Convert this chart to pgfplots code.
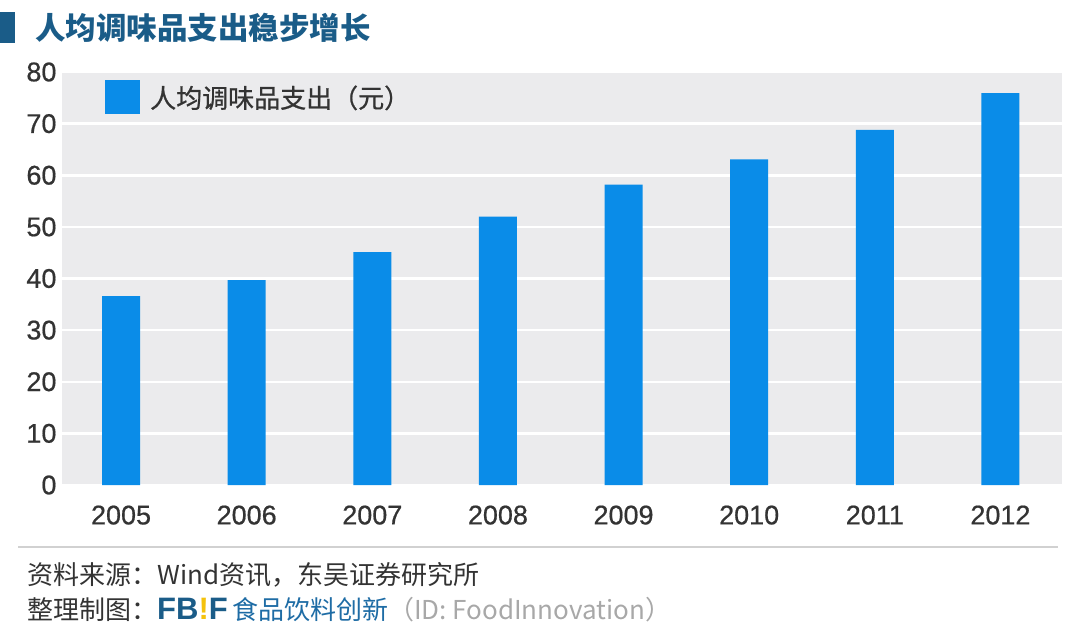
\documentclass[border=0pt]{standalone}
\usepackage{fontspec}
\usepackage{pgfplots}
\pgfplotsset{compat=1.18}
\setmainfont{Noto Sans CJK SC}
\newfontfamily\numfont{Liberation Sans}
\newfontfamily\numfontmed{Liberation Sans}[FakeBold=0.6]
\newfontfamily\cjkmed{Noto Sans CJK SC}[FakeBold=0.8]

\definecolor{barblue}{HTML}{0A8CE8}
\definecolor{bggray}{HTML}{EBEBED}
\definecolor{titleblue}{HTML}{1A5C88}
\definecolor{textgray}{HTML}{333333}
\definecolor{linkblue}{HTML}{1E6CA5}
\definecolor{idgray}{HTML}{A8A8A8}
\definecolor{fbyellow}{HTML}{F4C20D}

\begin{document}
\begin{tikzpicture}
\path[use as bounding box] (0,0) rectangle (1080pt,641pt);

% title
\fill[titleblue] (0pt,598pt) rectangle (15pt,629pt);
\node[anchor=west, inner sep=0pt, text=titleblue, font=\bfseries\fontsize{30.5pt}{33pt}\selectfont] at (35pt,613pt) {人均调味品支出稳步增长};

\begin{axis}[
    at={(62pt,156pt)}, anchor=south west,
    scale only axis, width=1000pt, height=413pt,
    xmin=-0.47, xmax=7.49, ymin=0, ymax=80,
    ybar, bar width=38pt,
    xtick={0,...,7},
    xticklabels={2005,2006,2007,2008,2009,2010,2011,2012},
    ytick={0,10,...,80},
    axis line style={draw=none},
    major tick length=0pt,
    axis background/.style={fill=bggray},
    ymajorgrids, grid style={white, line width=2.5pt},
    /pgf/number format/assume math mode=true,
    ticklabel style={font=\numfontmed\fontsize{27pt}{29pt}\selectfont, text=textgray},
    xticklabel style={yshift=-17pt},
    yticklabel style={xshift=-2pt},
    legend style={draw=none, fill=none, at={(0.04,0.985)}, anchor=north west,
        font=\cjkmed\fontsize{26pt}{28pt}\selectfont, text=textgray,
        /tikz/every even column/.append style={column sep=4pt}},
    legend image code/.code={\fill[barblue] (0pt,-17pt) rectangle (35pt,17pt);\path (43pt,0pt);},
]
\addplot[fill=barblue, draw=none] coordinates {
    (0,36.6) (1,39.7) (2,45.1) (3,52.0) (4,58.2) (5,63.1) (6,68.8) (7,75.9)
};
\addlegendentry{人均调味品支出（元）}
\end{axis}

% footer
\draw[line width=2.5pt, color=black!18] (18pt,94pt) -- (1058pt,94pt);
\node[anchor=west, inner sep=0pt, text=textgray, font=\fontsize{26pt}{28pt}\selectfont] at (27pt,66pt) {资料来源：Wind资讯，东吴证券研究所};
\node[anchor=west, inner sep=0pt, font=\fontsize{26pt}{28pt}\selectfont] at (27pt,31pt)
    {\textcolor{textgray}{整理制图：}{\numfont\bfseries\fontsize{31pt}{32pt}\selectfont\textcolor{titleblue}{FB}\textcolor{fbyellow}{!}\textcolor{titleblue}{F}}\,\textcolor{linkblue}{食品饮料创新}\textcolor{idgray}{（ID: FoodInnovation）}};
\end{tikzpicture}
\end{document}
